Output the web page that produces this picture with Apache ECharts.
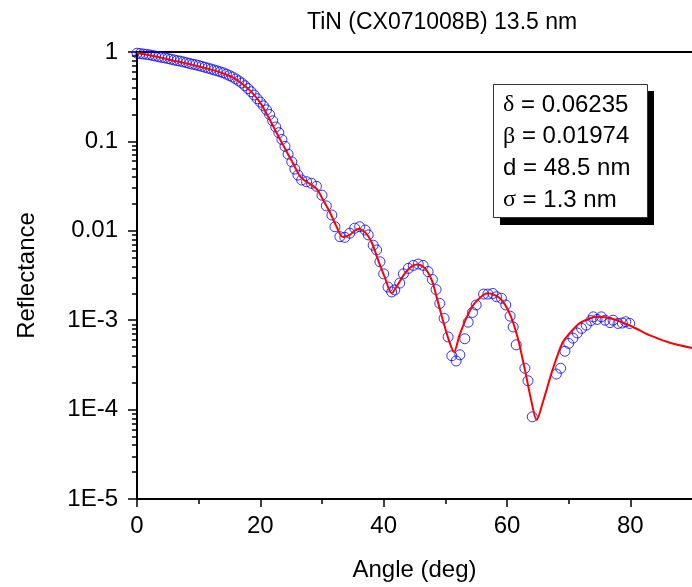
<!DOCTYPE html>
<html><head><meta charset="utf-8">
<script src="https://cdn.jsdelivr.net/npm/echarts@6/dist/echarts.min.js"></script>
<style>html,body{margin:0;padding:0;background:#fff}#c{width:692px;height:587px}</style>
</head><body><div id="c"></div>
<script>
const titleText = 'TiN (CX071008B) 13.5 nm';
const xName = 'Angle (deg)';
const yName = 'Reflectance';
const xTicks = [0, 20, 40, 60, 80];
const xMinorTicks = [10, 30, 50, 70];
const yTicks = [1e-5, 1e-4, 1e-3, 0.01, 0.1, 1];
const yTickLabels = ['1E-5', '1E-4', '1E-3', '0.01', '0.1', '1'];
const paramSymbols = ['δ', 'β', 'd', 'σ'];
const paramValues = ['0.06235', '0.01974', '48.5 nm', '1.3 nm'];

const dataAngle = [0.0,0.5,1.0,1.5,2.0,2.5,3.0,3.5,4.0,4.5,5.0,5.5,6.0,6.5,7.0,7.5,8.0,8.5,9.0,9.5,
 10.0,10.5,11.0,11.5,12.0,12.5,13.0,13.5,14.0,14.5,15.0,15.5,16.0,16.5,17.0,17.5,18.0,18.5,19.0,19.5,
 20.0,20.5,21.0,21.5,22.0,22.5,23.0,23.5,24.0,24.5,25.1,25.6,26.1,26.7,27.5,28.3,29.1,30.0,30.7,31.6,
 32.1,32.9,33.7,34.5,35.3,36.1,37.0,37.5,38.3,38.85,39.4,40.0,40.7,41.3,41.8,42.6,43.2,44.0,44.8,45.6,
 46.4,47.2,47.9,48.5,49.1,49.8,50.45,51.05,51.75,52.35,53.16,53.7,54.4,55.0,56.2,56.9,57.7,58.3,59.1,59.8,
 60.5,61.0,61.5,62.9,63.4,64.1,68.0,68.7,69.4,70.0,70.7,71.4,72.1,72.85,73.6,74.0,74.6,75.3,75.9,76.7,
 77.2,78.0,78.7,79.25,79.9];
const dataR = [0.97,0.96,0.95,0.94,0.93,0.915,0.90,0.885,0.87,0.86,0.845,0.83,0.815,0.80,0.79,0.775,0.76,0.745,0.73,0.72,
 0.705,0.69,0.675,0.66,0.645,0.63,0.615,0.60,0.585,0.565,0.545,0.525,0.50,0.475,0.45,0.42,0.39,0.36,0.33,0.30,
 0.275,0.25,0.225,0.20,0.17,0.145,0.125,0.105,0.088,0.072,0.059,0.049,0.042,0.037,0.0354,0.034,0.0315,0.025,0.019,0.015,
 0.0111,0.0086,0.00845,0.0094,0.0107,0.0111,0.0102,0.0090,0.0069,0.0061,0.0045,0.0033,0.00235,0.00207,0.00218,0.0026,0.0033,0.0038,0.0041,0.00425,
 0.0041,0.0035,0.00285,0.0022,0.00154,0.00105,0.00065,0.0004,0.00035,0.00041,0.00062,0.00095,0.00122,0.00148,0.00196,0.00196,0.00199,0.00183,0.00176,0.00148,
 0.00111,0.00084,0.00053,0.00029,0.00021,0.000083,0.00025,0.00029,0.00045,0.00055,0.00063,0.00072,0.00081,0.00088,0.00099,0.00109,0.00102,0.00109,0.00100,0.00094,
 0.00100,0.00092,0.00093,0.00096,0.00092];

const fitAngle = [0,2,4,6,8,10,12,14,15.5,17,18.5,20,21,22.5,24,25.3,26.4,27.3,28.2,29.2,
 30.2,31.3,32.4,33.4,34.5,35.8,37.0,38.1,39.1,40.2,41.3,42.3,43.8,45.4,46.7,47.8,48.6,49.6,50.7,51.4,
 52.3,53.5,54.8,56.9,58.8,60.4,61.7,62.9,64.0,64.8,65.8,67.4,69.0,70.2,71.8,73.5,74.5,77.2,80.4,83.1,
 86.4,90.0];
const fitR = [0.975,0.92,0.86,0.80,0.745,0.69,0.635,0.575,0.52,0.445,0.36,0.27,0.205,0.13,0.083,0.057,0.041,0.036,0.033,0.029,
 0.022,0.016,0.011,0.0085,0.0090,0.0105,0.0096,0.0073,0.0047,0.0030,0.0020,0.0025,0.0036,0.0042,0.0038,0.0028,0.0018,0.0010,0.00056,0.00044,
 0.00068,0.00109,0.00156,0.0020,0.00177,0.0012,0.00065,0.00028,0.00012,0.0000765,0.00012,0.00028,0.00056,0.00072,0.00093,0.00105,0.00109,0.00103,0.00084,0.00068,
 0.00056,0.00049];

const yMinorTicks = [];
for (let e = -5; e < 0; e++) for (let m = 2; m <= 9; m++) yMinorTicks.push(m * Math.pow(10, e));

const FONT = 'Liberation Sans, Arial, sans-serif';
const SERIF = 'Liberation Serif, Times New Roman, serif';
const blk = '#000';

const chart = echarts.init(document.getElementById('c'), null, {renderer: 'canvas'});
const legendGraphics = [
  {type: 'rect', shape: {x: 500, y: 91, width: 154, height: 134}, style: {fill: '#000'}},
  {type: 'rect', shape: {x: 493.5, y: 84.5, width: 154, height: 133}, style: {fill: '#fff', stroke: '#333', lineWidth: 1}}
];
paramSymbols.forEach((s, i) => {
  const greek = s !== 'd';
  legendGraphics.push({
    type: 'text', x: 503, y: 105 + i * 31.7,
    style: {
      text: '{' + (greek ? 'g' : 't') + '|' + s + '}{t| = ' + paramValues[i] + '}',
      verticalAlign: 'middle',
      rich: {
        g: {fontFamily: SERIF, fontSize: 24, fill: blk},
        t: {fontFamily: FONT, fontSize: 24, fill: blk}
      }
    }
  });
});

chart.setOption({
  animation: false,
  backgroundColor: '#fff',
  title: {text: titleText, left: 302, top: 6,
    textStyle: {fontSize: 23, fontWeight: 'normal', fontFamily: FONT, color: blk}},
  grid: {left: 137, right: 0, top: 52, bottom: 88},
  xAxis: [
    {type: 'value', min: 0, max: 90, position: 'bottom',
     axisLine: {lineStyle: {color: blk, width: 2}},
     axisTick: {customValues: xTicks, length: 8, lineStyle: {color: blk, width: 1.5}},
     axisLabel: {customValues: xTicks, fontSize: 24, color: blk, fontFamily: FONT, margin: 15},
     splitLine: {show: false},
     name: xName, nameLocation: 'middle', nameGap: 59,
     nameTextStyle: {fontSize: 24, color: blk, fontFamily: FONT}},
    {type: 'value', min: 0, max: 90, position: 'bottom',
     axisLine: {show: false},
     axisTick: {customValues: xMinorTicks, length: 5, lineStyle: {color: blk, width: 1.5}},
     axisLabel: {show: false}, splitLine: {show: false}},
    {type: 'value', min: 0, max: 90, position: 'top',
     axisLine: {show: true, lineStyle: {color: blk, width: 2}},
     axisTick: {show: false}, axisLabel: {show: false}, splitLine: {show: false}}
  ],
  yAxis: [
    {type: 'log', logBase: 10, min: 1e-5, max: 1, position: 'left',
     axisLine: {show: true, lineStyle: {color: blk, width: 2}},
     axisTick: {customValues: yTicks, length: 9, lineStyle: {color: blk, width: 1.5}},
     axisLabel: {customValues: yTicks, fontSize: 24, color: blk, fontFamily: FONT, margin: 19,
       formatter: v => {
         const i = yTicks.findIndex(t => Math.abs(Math.log10(t) - Math.log10(v)) < 1e-6);
         return i >= 0 ? yTickLabels[i] : '';
       }},
     splitLine: {show: false},
     name: yName, nameLocation: 'middle', nameGap: 98,
     nameTextStyle: {fontSize: 24, color: blk, fontFamily: FONT}},
    {type: 'log', logBase: 10, min: 1e-5, max: 1, position: 'left',
     axisLine: {show: false},
     axisTick: {customValues: yMinorTicks, length: 5, lineStyle: {color: blk, width: 1.5}},
     axisLabel: {show: false}, splitLine: {show: false}}
  ],
  series: [
    {type: 'scatter', xAxisIndex: 0, yAxisIndex: 0,
     data: dataAngle.map((a, i) => [a, dataR[i]]),
     symbol: 'circle', symbolSize: 10,
     itemStyle: {color: 'rgba(0,0,0,0)', borderColor: '#0000ff', borderWidth: 1},
     z: 2},
    {type: 'line', xAxisIndex: 0, yAxisIndex: 0,
     data: fitAngle.map((a, i) => [a, fitR[i]]),
     showSymbol: false, smooth: 0.3,
     lineStyle: {color: '#ff0000', width: 2},
     z: 3}
  ],
  graphic: legendGraphics
});
</script>
</body></html>
